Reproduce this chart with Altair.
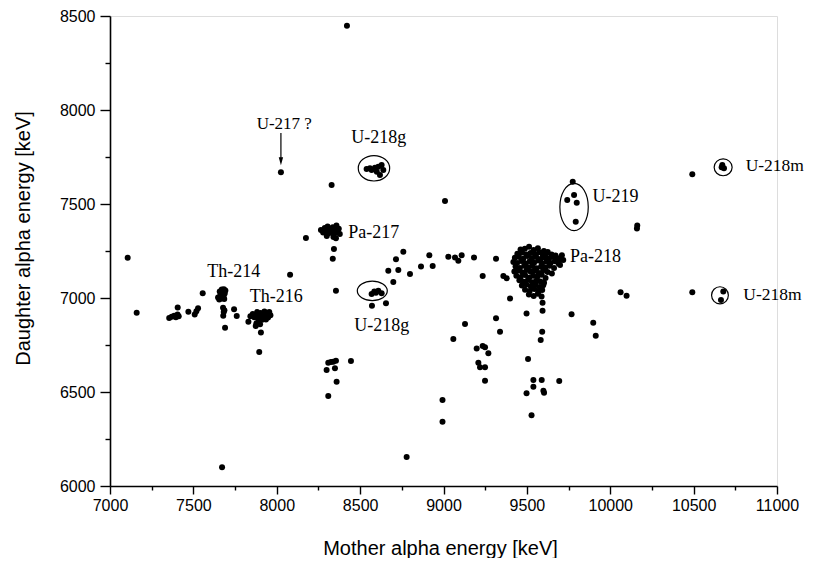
import altair as alt
import pandas as pd

# ---------------- data ----------------
left_x = [7106, 7160, 7355, 7370, 7385, 7395, 7405, 7412, 7406, 7470, 7508, 7518, 7528, 7556]
left_y = [7214, 6922, 6893, 6900, 6905, 6898, 6912, 6903, 6950, 6927, 6912, 6930, 6945, 7025]

th214_x = [7648, 7655, 7661, 7664, 7668, 7673, 7677, 7681, 7685, 7688, 7692, 7658, 7670, 7683,
           7678, 7682, 7679, 7686, 7690, 7744, 7760, 7672]
th214_y = [7003, 6992, 7012, 7027, 6998, 7018, 7035, 7006, 6995, 7024, 7040, 7034, 7045, 7047,
           6948, 6925, 6905, 6935, 6842, 6940, 6904, 6100]

th216_x = [7842, 7856, 7865, 7874, 7882, 7888, 7896, 7903, 7910, 7918, 7926, 7932, 7940, 7948,
           7955, 7962, 7890, 7912, 7935, 7878, 7900, 7830, 7874, 7905, 7895]
th216_y = [6903, 6915, 6897, 6910, 6925, 6893, 6907, 6920, 6898, 6912, 6928, 6903, 6917, 6896,
           6925, 6908, 6877, 6884, 6886, 6865, 6860, 6874, 6851, 6817, 6713]

pa217_x = [8265, 8278, 8288, 8296, 8305, 8312, 8320, 8328, 8336, 8344, 8350, 8358, 8365, 8372,
           8378, 8340, 8355, 8300, 8343, 8336, 8175, 8329, 8080, 8025, 8421, 8355]
pa217_y = [7362, 7348, 7373, 7358, 7380, 7345, 7367, 7352, 7376, 7340, 7362, 7385, 7350, 7368,
           7340, 7325, 7318, 7330, 7261, 7209, 7319, 7601, 7124, 7669, 8448, 7039]

u218g_x = [8539, 8559, 8569, 8589, 8609, 8629, 8639, 8619, 8600,
           8569, 8585, 8595, 8609, 8629, 8571, 8655]
u218g_y = [7686, 7690, 7681, 7693, 7698, 7707, 7681, 7654, 7672,
           7021, 7035, 7028, 7039, 7025, 6959, 6972]

low_x = [8309, 8325, 8339, 8355, 8349, 8299, 8445, 8359, 8309, 8994, 8994, 8779,
         9199, 9235, 9249, 9269, 9209, 9219, 9249, 9249, 9129, 9059, 9315, 9339,
         9592, 9583, 9507, 9539, 9589, 9539, 9599, 9603, 9498, 9694, 9528]
low_y = [6656, 6660, 6661, 6666, 6626, 6617, 6665, 6555, 6479, 6457, 6342, 6154,
         6732, 6745, 6738, 6706, 6656, 6631, 6631, 6560, 6862, 6782, 6892, 6821,
         6821, 6777, 6676, 6564, 6564, 6528, 6507, 6496, 6493, 6559, 6376]

mid_x = [8699, 8669, 8729, 8715, 8759, 8799, 8865, 8915, 8935, 9009, 9029, 9069, 9089, 9109,
         9183, 9235, 9315, 9359, 9379, 9399, 9498, 9594, 9594, 9768, 9898, 9913, 10062, 10098]
mid_y = [7085, 7145, 7149, 7206, 7246, 7128, 7167, 7227, 7170, 7516, 7220, 7216, 7198, 7227,
         7216, 7117, 7209, 7117, 7105, 6998, 6918, 6975, 6932, 6913, 6869, 6799, 7030, 7012]

pa218_x = [9462, 9488, 9513, 9541, 9566, 9602, 9625,
           9443, 9471, 9497, 9522, 9549, 9574, 9596, 9618, 9648, 9672,
           9428, 9452, 9479, 9503, 9531, 9556, 9582, 9609, 9633, 9659, 9684, 9706,
           9419, 9441, 9466, 9492, 9517, 9543, 9568, 9591, 9617, 9642, 9668, 9690,
           9432, 9458, 9484, 9508, 9533, 9559, 9585, 9611, 9636, 9663,
           9425, 9448, 9473, 9499, 9523, 9547, 9572, 9598, 9624, 9650,
           9437, 9462, 9489, 9514, 9538, 9563, 9589, 9612,
           9455, 9481, 9507, 9531, 9556, 9581, 9603,
           9470, 9497, 9524, 9551, 9576, 9598,
           9489, 9517, 9545, 9570, 9592,
           9512, 9541, 9566, 9588,
           9718, 9699, 9710]
pa218_y = [7258, 7262, 7273, 7255, 7264, 7250, 7245,
           7236, 7242, 7231, 7240, 7233, 7244, 7229, 7238, 7232, 7226,
           7214, 7220, 7209, 7223, 7212, 7219, 7207, 7216, 7210, 7218, 7212, 7205,
           7192, 7186, 7197, 7184, 7195, 7188, 7199, 7183, 7193, 7186, 7195, 7183,
           7168, 7160, 7172, 7163, 7170, 7158, 7168, 7161, 7171, 7160,
           7141, 7146, 7136, 7149, 7139, 7145, 7133, 7147, 7138, 7130,
           7118, 7111, 7122, 7108, 7119, 7113, 7124, 7106,
           7094, 7086, 7097, 7084, 7092, 7088, 7081,
           7066, 7072, 7061, 7070, 7059, 7068,
           7044, 7037, 7048, 7035, 7042,
           7018, 7010, 7022, 7008,
           7202, 7176, 7228]

right_x = [9775, 9783, 9742, 9799, 9793, 10160, 10162, 10492, 10672, 10682, 10668,
           10492, 10678, 10664]
right_y = [7619, 7548, 7521, 7507, 7406, 7370, 7385, 7658, 7707, 7690, 7695,
           7030, 7034, 6989]

mother = (left_x + th214_x + th216_x + pa217_x + u218g_x + low_x + mid_x + pa218_x + right_x)
daughter = (left_y + th214_y + th216_y + pa217_y + u218g_y + low_y + mid_y + pa218_y + right_y)

# labels
label_text = ["Th-214", "Th-216", "U-218g", "U-218g"]
label_x = [7742, 7997, 8612, 8629]
label_y = [7110, 6980, 7823, 6826]

label2_text = ["Pa-217", "Pa-218", "U-219"]
label2_x = [8429, 9759, 9893]
label2_y = [7317, 7193, 7513]

label3_text = ["U-218m", "U-218m"]
label3_x = [10812, 10798]
label3_y = [7677, 6989]

# circled groups: centre and radii (px)
ell_name = ["g1", "g2", "u219", "m1", "m2"]
ell_x = [8583, 8573, 9783, 10677, 10658]
ell_y = [7690, 7038, 7484, 7695, 7014]
ell_rx = [15.7, 15.0, 14.2, 9.0, 8.4]
ell_ry = [12.7, 9.8, 23.7, 8.4, 8.6]

arrow_x = [8025]
arrow_top = [7878]
arrow_tip = [7728]

# ---------------- chart ----------------
pts = pd.DataFrame({"m": mother, "d": daughter})

xs = alt.Scale(domain=[7000, 11000], nice=False, zero=False)
ys = alt.Scale(domain=[6000, 8500], nice=False, zero=False)

x_ticks = [7000 + 250 * i for i in range(17)]
y_ticks = [6000 + 250 * i for i in range(11)]

x_axis = alt.Axis(
    values=x_ticks, format="d",
    labelExpr="datum.value % 500 == 0 ? datum.label : ''",
    tickSize={"condition": {"test": "datum.value % 500 != 0", "value": 4}, "value": 8},
    grid=False, domainColor="black", domainWidth=1.6, tickColor="black", tickWidth=1.4,
    labelFont="Liberation Sans", labelFontSize=16, labelColor="black", labelPadding=3,
    labelFlush=False, labelOverlap=False,
    title="Mother alpha energy [keV]", titleFont="Liberation Sans", titleFontSize=20,
    titleFontWeight="normal", titleColor="black", titleX=330, titleY=62,
    titleBaseline="middle", titleAnchor="middle",
)
y_axis = alt.Axis(
    values=y_ticks, format="d",
    labelExpr="datum.value % 500 == 0 ? datum.label : ''",
    tickSize={"condition": {"test": "datum.value % 500 != 0", "value": 5}, "value": 10},
    grid=False, domainColor="black", domainWidth=1.6, tickColor="black", tickWidth=1.4,
    labelFont="Liberation Sans", labelFontSize=16, labelColor="black", labelPadding=5,
    labelFlush=False, labelOverlap=False,
    title="Daughter alpha energy [keV]", titleFont="Liberation Sans", titleFontSize=20,
    titleFontWeight="normal", titleColor="black", titleX=-87, titleY=222,
    titleBaseline="middle", titleAngle=270,
)

dots = alt.Chart(pts).mark_circle(color="black", opacity=1, size=36).encode(
    x=alt.X("m:Q", scale=xs, axis=x_axis),
    y=alt.Y("d:Q", scale=ys, axis=y_axis),
)

ell_paths = []
for rx, ry in zip(ell_rx, ell_ry):
    m = max(rx, ry)
    a, b = rx / m, ry / m
    ell_paths.append(f"M{-a:.3f},0A{a:.3f},{b:.3f} 0 1,0 {a:.3f},0A{a:.3f},{b:.3f} 0 1,0 {-a:.3f},0Z")
ell_size = [(2 * max(rx, ry)) ** 2 for rx, ry in zip(ell_rx, ell_ry)]

ell_df = pd.DataFrame({"name": ell_name, "m": ell_x, "d": ell_y, "s": ell_size})
ellipses = alt.Chart(ell_df).mark_point(filled=False, color="black", strokeWidth=1.2, opacity=1).encode(
    x=alt.X("m:Q", scale=xs),
    y=alt.Y("d:Q", scale=ys),
    shape=alt.Shape("name:N", scale=alt.Scale(domain=ell_name, range=ell_paths), legend=None),
    size=alt.Size("s:Q", scale=None, legend=None),
)

lab_df = pd.DataFrame({"t": label_text, "m": label_x, "d": label_y})
lab_c = alt.Chart(lab_df).mark_text(
    font="Liberation Serif", fontSize=18, color="black", align="center", baseline="alphabetic"
).encode(x=alt.X("m:Q", scale=xs), y=alt.Y("d:Q", scale=ys), text="t:N")

lab2_df = pd.DataFrame({"t": label2_text, "m": label2_x, "d": label2_y})
lab_l = alt.Chart(lab2_df).mark_text(
    font="Liberation Serif", fontSize=18, color="black", align="left", baseline="alphabetic"
).encode(x=alt.X("m:Q", scale=xs), y=alt.Y("d:Q", scale=ys), text="t:N")

lab3_df = pd.DataFrame({"t": label3_text, "m": label3_x, "d": label3_y})
lab_m = alt.Chart(lab3_df).mark_text(
    font="Liberation Serif", fontSize=17.5, color="black", align="left", baseline="alphabetic"
).encode(x=alt.X("m:Q", scale=xs), y=alt.Y("d:Q", scale=ys), text="t:N")

u217_df = pd.DataFrame({"t": ["U-217 ?"], "m": [8045], "d": [7899]})
u217 = alt.Chart(u217_df).mark_text(
    font="Liberation Serif", fontSize=17, color="black", align="center", baseline="alphabetic"
).encode(x=alt.X("m:Q", scale=xs), y=alt.Y("d:Q", scale=ys), text="t:N")

arr_df = pd.DataFrame({"m": arrow_x, "top": arrow_top, "tip": arrow_tip})
arrow_line = alt.Chart(arr_df).mark_rule(color="black", strokeWidth=1.2).encode(
    x=alt.X("m:Q", scale=xs), y=alt.Y("top:Q", scale=ys), y2="tip:Q"
)
arrow_head = alt.Chart(arr_df).mark_point(
    shape="M-0.55,-1L0.55,-1L0,1Z", filled=True, color="black", size=64, opacity=1
).encode(x=alt.X("m:Q", scale=xs), y=alt.Y("tip:Q", scale=ys))

chart = alt.layer(dots, ellipses, lab_c, lab_l, lab_m, u217, arrow_line, arrow_head).properties(
    width=667, height=470,
    autosize=alt.AutoSizeParams(type="none"),
    padding={"left": 102, "top": 8, "right": 28, "bottom": 72},
).configure_view(stroke=None).configure(background="white")

chart.save("out.html", embed_options={"renderer": "svg", "actions": False})
